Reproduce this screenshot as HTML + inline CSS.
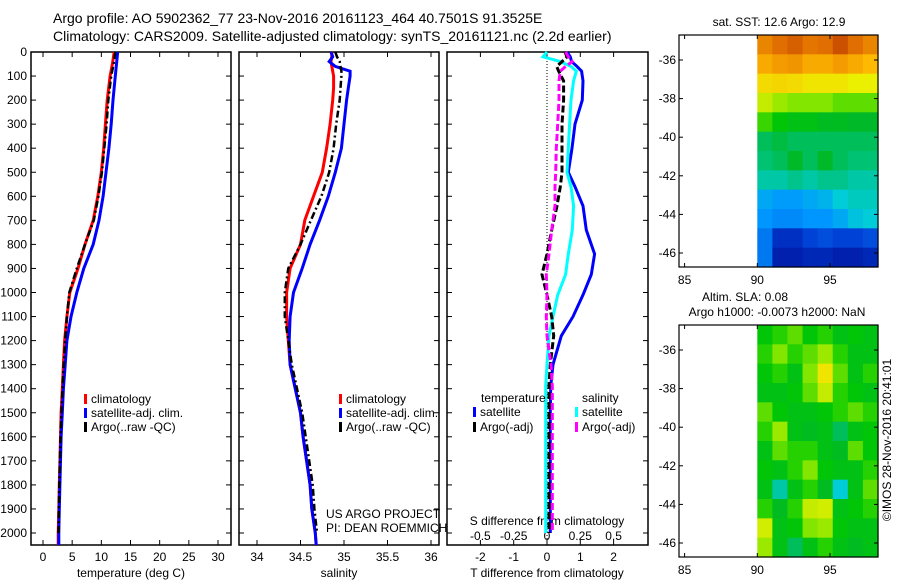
<!DOCTYPE html>
<html><head><meta charset="utf-8"><style>
html,body{margin:0;padding:0;background:#fff;}
svg{display:block;font-family:"Liberation Sans",sans-serif;}
</style></head><body>
<svg id="fig" width="900" height="580" viewBox="0 0 900 580" xmlns="http://www.w3.org/2000/svg">
<text x="53" y="23" font-size="14">Argo profile: AO 5902362_77 23-Nov-2016 20161123_464 40.7501S 91.3525E</text>
<text x="53" y="41" font-size="14">Climatology: CARS2009. Satellite-adjusted climatology: synTS_20161121.nc (2.2d earlier)</text>
</svg>
<script>
// ---------------- data ----------------
const depthT = [0,50,100,200,300,400,500,600,700,800,900,1000,1100,1200,1300,1400,1500,1600,1700,1800,1900,2000,2050];
const tempClim = [12.2,11.9,11.5,11.0,10.7,10.4,10.0,9.4,8.6,7.2,6.0,4.6,4.1,3.7,3.5,3.3,3.1,3.0,2.9,2.8,2.7,2.6,2.6];
const tempSat  = [12.8,12.6,12.4,12.0,11.7,11.3,10.8,10.3,9.6,8.6,7.0,5.8,4.8,4.1,3.8,3.5,3.3,3.1,3.0,2.9,2.8,2.7,2.7];
const tempArgo = [12.4,12.1,11.7,11.2,10.9,10.5,10.1,9.5,8.7,7.2,5.8,4.5,4.1,3.8,3.55,3.35,3.15,3.0,2.9,2.8,2.7,2.65];
const depthS = [0,20,40,60,80,100,150,200,300,400,500,600,700,800,900,1000,1100,1200,1300,1400,1500,1600,1700,1800,1900,2000,2050];
const salClim = [34.86,34.86,34.85,34.86,34.87,34.88,34.88,34.87,34.84,34.80,34.75,34.65,34.55,34.50,34.38,34.34,34.34,34.36,34.38,34.44,34.50,34.53,34.57,34.61,34.63,34.67,34.68];
const salSat  = [34.85,34.87,34.83,34.90,35.07,35.07,35.05,35.03,35.00,34.97,34.90,34.82,34.72,34.61,34.52,34.42,34.38,34.37,34.38,34.44,34.50,34.53,34.57,34.61,34.63,34.67,34.68];
const salArgo = [34.90,34.92,34.95,34.96,34.97,34.97,34.96,34.95,34.91,34.88,34.83,34.74,34.62,34.50,34.36,34.32,34.32,34.36,34.40,34.46,34.52,34.56,34.60,34.64,34.66,34.69];
const depthD = [0,20,40,60,80,120,200,300,400,500,560,640,740,840,925,1010,1100,1180,1300,1390,1500,1700,2000];
const dTsat  = [0.6,0.7,0.74,0.9,1.04,1.08,1.06,0.84,0.75,0.64,0.84,1.08,1.18,1.43,1.33,1.08,0.78,0.43,0.18,0.11,0.10,0.10,0.10];
const dTargo = [0.54,0.6,0.45,0.29,0.35,0.5,0.5,0.45,0.45,0.45,0.4,0.3,0.14,0.0,-0.15,0.0,0.14,0.2,0.1,0.06,0.06,0.06,0.06];
const dSsat  = [0.0,-0.03,0.1,0.18,0.22,0.2,0.18,0.17,0.16,0.15,0.18,0.2,0.19,0.16,0.14,0.08,0.045,0.015,0.0,-0.01,-0.01,-0.01,-0.01];
const dSargo = [0.14,0.16,0.19,0.14,0.1,0.09,0.09,0.08,0.07,0.065,0.06,0.06,0.035,0.015,-0.005,0.0,-0.005,0.0,0.03,0.04,0.04,0.04,0.04];
const tTicks = [0,5,10,15,20,25,30];
const sTicks = [34,34.5,35,35.5,36];
const dTTicks = [-2,-1,0,1,2];
const dSTicks = [-0.5,-0.25,0,0.25,0.5];
const dSTickLabels = ["-0.5","-0.25","0","0.25","0.5"];
const depthTicks = [0,100,200,300,400,500,600,700,800,900,1000,1100,1200,1300,1400,1500,1600,1700,1800,1900,2000];
const lonTicks = [85,90,95];
const latTicks = [-36,-38,-40,-42,-44,-46];
const sstGrid = [
[0.85,0.88,0.90,0.87,0.88,0.92,0.88,0.85],
[0.80,0.82,0.83,0.80,0.80,0.82,0.80,0.78],
[0.72,0.73,0.72,0.70,0.70,0.70,0.68,0.68],
[0.65,0.62,0.60,0.60,0.60,0.58,0.58,0.58],
[0.56,0.52,0.50,0.50,0.48,0.48,0.47,0.47],
[0.45,0.46,0.45,0.45,0.45,0.45,0.45,0.45],
[0.44,0.45,0.47,0.45,0.47,0.45,0.44,0.44],
[0.42,0.42,0.43,0.42,0.43,0.43,0.42,0.42],
[0.33,0.31,0.31,0.33,0.35,0.40,0.41,0.41],
[0.30,0.28,0.28,0.30,0.30,0.33,0.38,0.40],
[0.25,0.12,0.12,0.16,0.18,0.16,0.16,0.18],
[0.25,0.08,0.08,0.10,0.10,0.08,0.08,0.10]];
const slaGrid = [
[0.52,0.55,0.58,0.52,0.55,0.50,0.52,0.50],
[0.55,0.60,0.55,0.58,0.62,0.55,0.50,0.50],
[0.52,0.55,0.50,0.60,0.70,0.58,0.50,0.55],
[0.50,0.50,0.52,0.58,0.65,0.55,0.52,0.50],
[0.58,0.52,0.50,0.50,0.52,0.55,0.58,0.55],
[0.55,0.62,0.50,0.48,0.50,0.45,0.50,0.52],
[0.50,0.58,0.55,0.55,0.50,0.48,0.58,0.52],
[0.52,0.50,0.55,0.60,0.52,0.50,0.50,0.55],
[0.50,0.42,0.50,0.55,0.48,0.40,0.50,0.58],
[0.55,0.48,0.55,0.65,0.66,0.50,0.52,0.55],
[0.66,0.50,0.52,0.60,0.62,0.52,0.50,0.50],
[0.62,0.50,0.45,0.50,0.55,0.50,0.48,0.50]];

// ---------------- helpers ----------------
const NS="http://www.w3.org/2000/svg";
const svg=document.getElementById('fig');
function mk(tag,attrs,parent){const e=document.createElementNS(NS,tag);for(const k in attrs)e.setAttribute(k,attrs[k]);(parent||svg).appendChild(e);return e;}
const Y0=52, DSC=0.2405;
function yD(d){return Y0+d*DSC;}
function lin(d0,d1,r0,r1){return v=>r0+(v-d0)*(r1-r0)/(d1-d0);}
const xT=lin(0,30,43,218);
const xS=lin(34,36,257,431);
const xDT=lin(0,1,547,580.3);
const xDS=lin(0,0.25,547,580.3);
const BOT=545;

function frame(x0,x1,name){
  const r=mk('rect',{x:x0,y:Y0,width:x1-x0,height:BOT-Y0,fill:'none',stroke:'#000','stroke-width':1.5});
  
  
  depthTicks.forEach(d=>{
    const y=yD(d);
    mk('line',{x1:x0,x2:x0+5,y1:y,y2:y,stroke:'#000'});
    mk('line',{x1:x1,x2:x1-5,y1:y,y2:y,stroke:'#000'});
  });
}
function xticks(vals,fx,labels,ly,name){
  vals.forEach((v,i)=>{
    const x=fx(v);
    mk('line',{x1:x,x2:x,y1:BOT,y2:BOT-5,stroke:'#000'});
    mk('line',{x1:x,x2:x,y1:Y0,y2:Y0+5,stroke:'#000'});
    const t=mk('text',{x:x,y:ly,'font-size':12,'text-anchor':'middle'});
    t.textContent=labels?labels[i]:String(v);
    
    
  });
}
function profile(vals,depths,fx,color,dash,name,width){
  const pts=vals.map((v,i)=>fx(v).toFixed(1)+','+yD(depths[i]).toFixed(1)).join(' ');
  const p=mk('polyline',{points:pts,fill:'none',stroke:color,'stroke-width':width||3,'stroke-dasharray':dash||'none'});
  
  
}
function label(x,y,txt,name,opts){
  const t=mk('text',Object.assign({x:x,y:y,'font-size':12},opts||{}));
  t.textContent=txt;
  
  
  return t;
}
function legendEntry(x,y,color,txt,name){
  mk('rect',{x:x,y:y-9,width:3,height:10,fill:color});
  label(x+7,y,txt,name);
}

// ---------------- panel 1: temperature ----------------
frame(31,231,'temperature-panel');
depthTicks.forEach(d=>{label(27,yD(d)+4,String(d),'depth-tick-label',{'text-anchor':'end'});});
xticks(tTicks,xT,null,561,'temperature-tick-label');
label(131,577,'temperature (deg C)','temperature-axis-title',{'text-anchor':'middle'});
profile(tempClim,depthT,xT,'#f00',null,'temp-climatology-line');
profile(tempSat,depthT,xT,'#00f',null,'temp-satellite-line');
profile(tempArgo,depthT.slice(0,tempArgo.length),xT,'#000','7,3,2,3','temp-argo-line',2.5);
legendEntry(84,403,'#f00','climatology','legend-climatology');
legendEntry(84,417,'#00f','satellite-adj. clim.','legend-satellite');
legendEntry(84,431,'#000','Argo(..raw -QC)','legend-argo');

// ---------------- panel 2: salinity ----------------
frame(239,439,'salinity-panel');
xticks(sTicks,xS,null,561,'salinity-tick-label');
label(339,577,'salinity','salinity-axis-title',{'text-anchor':'middle'});
profile(salClim,depthS,xS,'#f00',null,'sal-climatology-line');
profile(salSat,depthS,xS,'#00f',null,'sal-satellite-line');
profile(salArgo,depthS.slice(0,salArgo.length),xS,'#000','7,3,2,3','sal-argo-line',2.5);
legendEntry(339,403,'#f00','climatology','legend-sal-climatology');
legendEntry(339,417,'#00f','satellite-adj. clim.','legend-sal-satellite');
legendEntry(339,431,'#000','Argo(..raw -QC)','legend-sal-argo');
label(326,518,'US ARGO PROJECT','project-label');
label(326,532,'PI: DEAN ROEMMICH','pi-label');

// ---------------- panel 3: differences ----------------
frame(447,648,'difference-panel');
mk('line',{x1:xDT(0),x2:xDT(0),y1:Y0,y2:BOT,stroke:'#000','stroke-dasharray':'1,2'});
xticks(dTTicks,xDT,null,561,'t-diff-tick-label');
dSTicks.forEach((v,i)=>{label(xDS(v),540,dSTickLabels[i],'s-diff-tick-label',{'text-anchor':'middle'});});
label(547,525,'S difference from climatology','s-diff-axis-title',{'text-anchor':'middle'});
label(547,577,'T difference from climatology','t-diff-axis-title',{'text-anchor':'middle'});
profile(dTsat,depthD,xDT,'#00f',null,'dt-satellite-line');
profile(dSsat,depthD,xDS,'#0ff',null,'ds-satellite-line');
profile(dTargo,depthD,xDT,'#000','7,3','dt-argo-line');
profile(dSargo,depthD,xDS,'#f0f','7,3','ds-argo-line');
label(481,402,'temperature','legend-temperature-header');
legendEntry(473,416,'#00f','satellite','legend-dt-satellite');
legendEntry(473,431,'#000','Argo(-adj)','legend-dt-argo');
label(582,402,'salinity','legend-salinity-header');
legendEntry(575,416,'#0ff','satellite','legend-ds-satellite');
legendEntry(575,431,'#f0f','Argo(-adj)','legend-ds-argo');

// ---------------- maps ----------------
const cmStops=[[0,[0,0,130]],[0.15,[0,60,210]],[0.3,[0,150,255]],[0.4,[0,205,215]],[0.47,[0,185,40]],[0.53,[0,200,0]],[0.6,[130,230,0]],[0.68,[235,240,0]],[0.78,[255,185,0]],[0.88,[225,110,0]],[1,[160,20,0]]];
function cmap(v){
  for(let i=1;i<cmStops.length;i++){
    if(v<=cmStops[i][0]){const a=cmStops[i-1],b=cmStops[i];const f=(v-a[0])/(b[0]-a[0]);
      const c=a[1].map((q,k)=>Math.round(q+(b[1][k]-q)*f));return 'rgb('+c.join(',')+')';}
  }
  return 'rgb(160,20,0)';
}
const xLon=lin(85,95,684.6,830);
function drawMap(top,grid,name,cellName){
  const bottom=top+232;
  const yLat=lin(-36,-46,top+25,top+218);
  const g=mk('g',{});
  
  
  const rows=grid.length, cols=grid[0].length;
  const x0=xLon(90), x1=878;
  const cw=(x1-x0)/cols, ch=(bottom-top)/rows;
  grid.forEach((row,r)=>row.forEach((v,c)=>{
    const cell=mk('rect',{x:(x0+c*cw).toFixed(2),y:(top+r*ch).toFixed(2),width:(cw+0.6).toFixed(2),height:(ch+0.6).toFixed(2),fill:cmap(v)},g);
    
    
  }));
  mk('rect',{x:679,y:top,width:199,height:bottom-top,fill:'none',stroke:'#000','stroke-width':1.2});
  lonTicks.forEach(lo=>{const x=xLon(lo);
    mk('line',{x1:x,x2:x,y1:bottom,y2:bottom-4,stroke:'#000'});
    mk('line',{x1:x,x2:x,y1:top,y2:top+4,stroke:'#000'});
    label(x,bottom+17,String(lo),'lon-tick-label',{'text-anchor':'middle'});});
  latTicks.forEach(la=>{const y=yLat(la);
    mk('line',{x1:679,x2:683,y1:y,y2:y,stroke:'#000'});
    mk('line',{x1:878,x2:874,y1:y,y2:y,stroke:'#000'});
    label(676,y+4,String(la),'lat-tick-label',{'text-anchor':'end'});});
}
drawMap(35,sstGrid,'sst-map','sst-cell');
drawMap(325,slaGrid,'sla-map','sla-cell');
label(779,26,'sat. SST: 12.6 Argo: 12.9','sst-map-title',{'text-anchor':'middle'});
label(745,301,'Altim. SLA: 0.08','sla-map-title',{'text-anchor':'middle'});
label(777,316,'Argo h1000: -0.0073 h2000: NaN','sla-map-subtitle',{'text-anchor':'middle'});
label(0,0,'©IMOS 28-Nov-2016 20:41:01','imos-credit',{'text-anchor':'middle',transform:'translate(891,440) rotate(-90)'});
</script>
</body></html>
